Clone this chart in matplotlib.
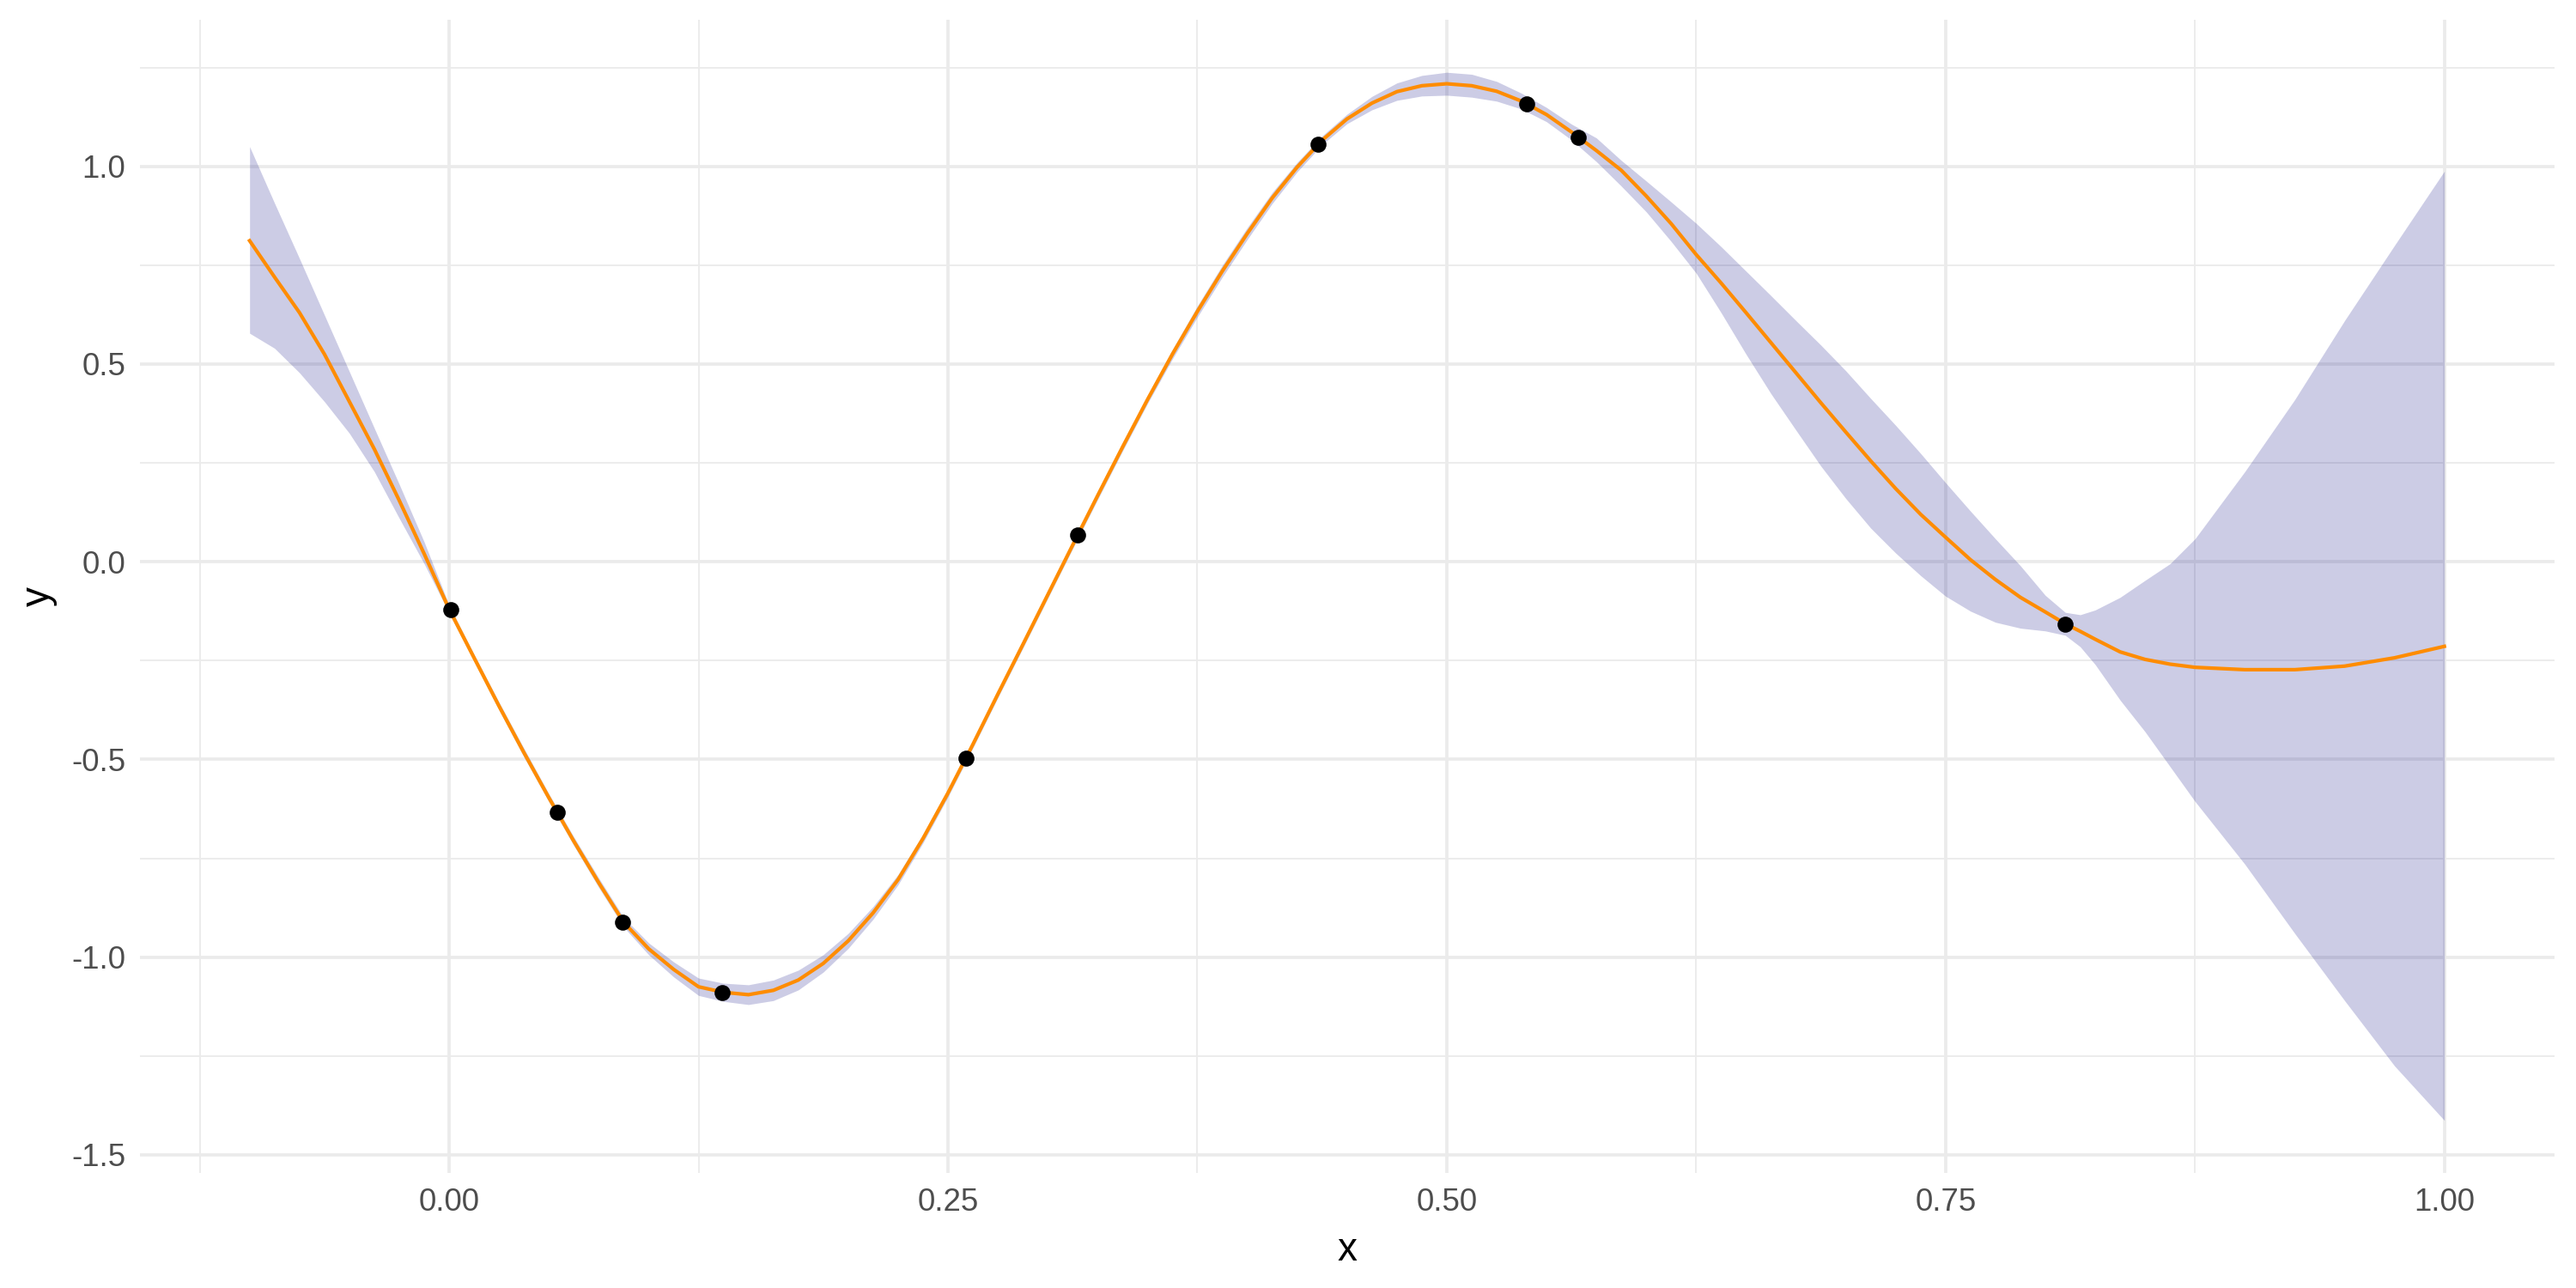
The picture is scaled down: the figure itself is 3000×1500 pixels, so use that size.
import matplotlib
matplotlib.use("Agg")
import matplotlib.pyplot as plt

# observed points
obs_x = [0.001, 0.054, 0.087, 0.137, 0.259, 0.315, 0.4355, 0.540, 0.566, 0.810]
obs_y = [-0.121, -0.633, -0.912, -1.089, -0.496, 0.068, 1.057, 1.158, 1.073, -0.157]

# posterior mean and band
grid_x = [-0.1000, -0.0875, -0.0750, -0.0625, -0.0500, -0.0375, -0.0250, -0.0125,
          0.0000, 0.0125, 0.0250, 0.0375, 0.0500, 0.0625, 0.0750, 0.0875,
          0.1000, 0.1125, 0.1250, 0.1375, 0.1500, 0.1625, 0.1750, 0.1875,
          0.2000, 0.2125, 0.2250, 0.2375, 0.2500, 0.2625, 0.2750, 0.2875,
          0.3000, 0.3125, 0.3250, 0.3375, 0.3500, 0.3625, 0.3750, 0.3875,
          0.4000, 0.4125, 0.4250, 0.4375, 0.4500, 0.4625, 0.4750, 0.4875,
          0.5000, 0.5125, 0.5250, 0.5375, 0.5500, 0.5625, 0.5750, 0.5875,
          0.6000, 0.6125, 0.6250, 0.6375, 0.6500, 0.6625, 0.6750, 0.6875,
          0.7000, 0.7125, 0.7250, 0.7375, 0.7500, 0.7625, 0.7750, 0.7875,
          0.8000, 0.8100, 0.8175, 0.8250, 0.8375, 0.8500, 0.8625, 0.8750,
          0.9000, 0.9250, 0.9500, 0.9750, 1.0000]
mean_y = [0.812, 0.720, 0.630, 0.525, 0.405, 0.285, 0.155, 0.020,
          -0.120, -0.243, -0.365, -0.483, -0.597, -0.707, -0.812, -0.912,
          -0.979, -1.031, -1.075, -1.089, -1.095, -1.084, -1.058, -1.016,
          -0.959, -0.888, -0.804, -0.700, -0.585, -0.462, -0.335, -0.210,
          -0.084, 0.042, 0.167, 0.290, 0.410, 0.525, 0.633, 0.735,
          0.830, 0.920, 0.998, 1.066, 1.120, 1.160, 1.189, 1.204,
          1.209, 1.204, 1.190, 1.165, 1.131, 1.087, 1.040, 0.990,
          0.925, 0.855, 0.777, 0.705, 0.630, 0.554, 0.478, 0.402,
          0.328, 0.255, 0.185, 0.120, 0.062, 0.005, -0.045, -0.090,
          -0.127, -0.157, -0.176, -0.196, -0.228, -0.247, -0.259, -0.267,
          -0.273, -0.273, -0.264, -0.243, -0.214]
lower_y = [0.578, 0.540, 0.478, 0.405, 0.325, 0.228, 0.110, -0.005,
           -0.130, -0.252, -0.375, -0.494, -0.607, -0.718, -0.824, -0.924,
           -0.994, -1.050, -1.097, -1.112, -1.120, -1.110, -1.083, -1.038,
           -0.978, -0.904, -0.817, -0.711, -0.595, -0.471, -0.344, -0.219,
           -0.093, 0.033, 0.157, 0.280, 0.400, 0.513, 0.619, 0.720,
           0.815, 0.906, 0.986, 1.055, 1.108, 1.143, 1.167, 1.178,
           1.180, 1.175, 1.165, 1.145, 1.113, 1.067, 1.012, 0.950,
           0.885, 0.810, 0.730, 0.630, 0.525, 0.425, 0.333, 0.242,
           0.160, 0.085, 0.022, -0.035, -0.087, -0.125, -0.153, -0.168,
           -0.175, -0.186, -0.215, -0.260, -0.350, -0.430, -0.518, -0.606,
           -0.765, -0.940, -1.110, -1.275, -1.413]
upper_y = [1.050, 0.907, 0.767, 0.624, 0.481, 0.338, 0.196, 0.050,
           -0.110, -0.234, -0.355, -0.472, -0.587, -0.696, -0.800, -0.900,
           -0.964, -1.012, -1.053, -1.066, -1.070, -1.058, -1.033, -0.994,
           -0.940, -0.872, -0.791, -0.689, -0.575, -0.453, -0.326, -0.201,
           -0.075, 0.051, 0.177, 0.300, 0.420, 0.537, 0.647, 0.750,
           0.845, 0.934, 1.010, 1.077, 1.132, 1.177, 1.211, 1.230,
           1.238, 1.233, 1.215, 1.185, 1.149, 1.107, 1.072, 1.015,
           0.963, 0.910, 0.856, 0.797, 0.735, 0.673, 0.610, 0.548,
           0.483, 0.413, 0.345, 0.274, 0.200, 0.128, 0.058, -0.010,
           -0.085, -0.128, -0.134, -0.122, -0.090, -0.047, -0.005, 0.058,
           0.228, 0.410, 0.610, 0.800, 0.988]

x_ticks = [0.0, 0.25, 0.5, 0.75, 1.0]
x_labels = ["0.00", "0.25", "0.50", "0.75", "1.00"]
y_ticks = [-1.5, -1.0, -0.5, 0.0, 0.5, 1.0]
y_labels = ["-1.5", "-1.0", "-0.5", "0.0", "0.5", "1.0"]
x_minor = [-0.125, 0.125, 0.375, 0.625, 0.875]
y_minor = [-1.25, -0.75, -0.25, 0.25, 0.75, 1.25]

plt.rcParams["font.family"] = ["Liberation Sans", "DejaVu Sans"]

fig = plt.figure(figsize=(10, 5), dpi=300)
ax = fig.add_axes([0.0543, 0.0893, 0.9372, 0.8954])

ax.set_xlim(-0.155, 1.055)
ax.set_ylim(-1.546, 1.371)

grid_col = "#EBEBEB"
for v in x_ticks:
    ax.axvline(v, color=grid_col, lw=0.9, zorder=0)
for v in x_minor:
    ax.axvline(v, color=grid_col, lw=0.45, zorder=0)
for v in y_ticks:
    ax.axhline(v, color=grid_col, lw=0.9, zorder=0)
for v in y_minor:
    ax.axhline(v, color=grid_col, lw=0.45, zorder=0)

ax.fill_between(grid_x, lower_y, upper_y, color="navy", alpha=0.2, lw=0, zorder=2)
ax.plot(grid_x, mean_y, color="darkorange", lw=1.0, zorder=3)
ax.scatter(obs_x, obs_y, s=20, color="black", zorder=4, linewidths=0)

ax.set_xticks(x_ticks)
ax.set_xticklabels(x_labels)
ax.set_yticks(y_ticks)
ax.set_yticklabels(y_labels)
ax.tick_params(length=0, labelsize=8.8, labelcolor="#4D4D4D", pad=4)
for s in ax.spines.values():
    s.set_visible(False)

ax.set_xlabel("x", fontsize=11, labelpad=4)
ax.set_ylabel("y", fontsize=11, labelpad=4)

fig.savefig("out.png", dpi=300, facecolor="white")
